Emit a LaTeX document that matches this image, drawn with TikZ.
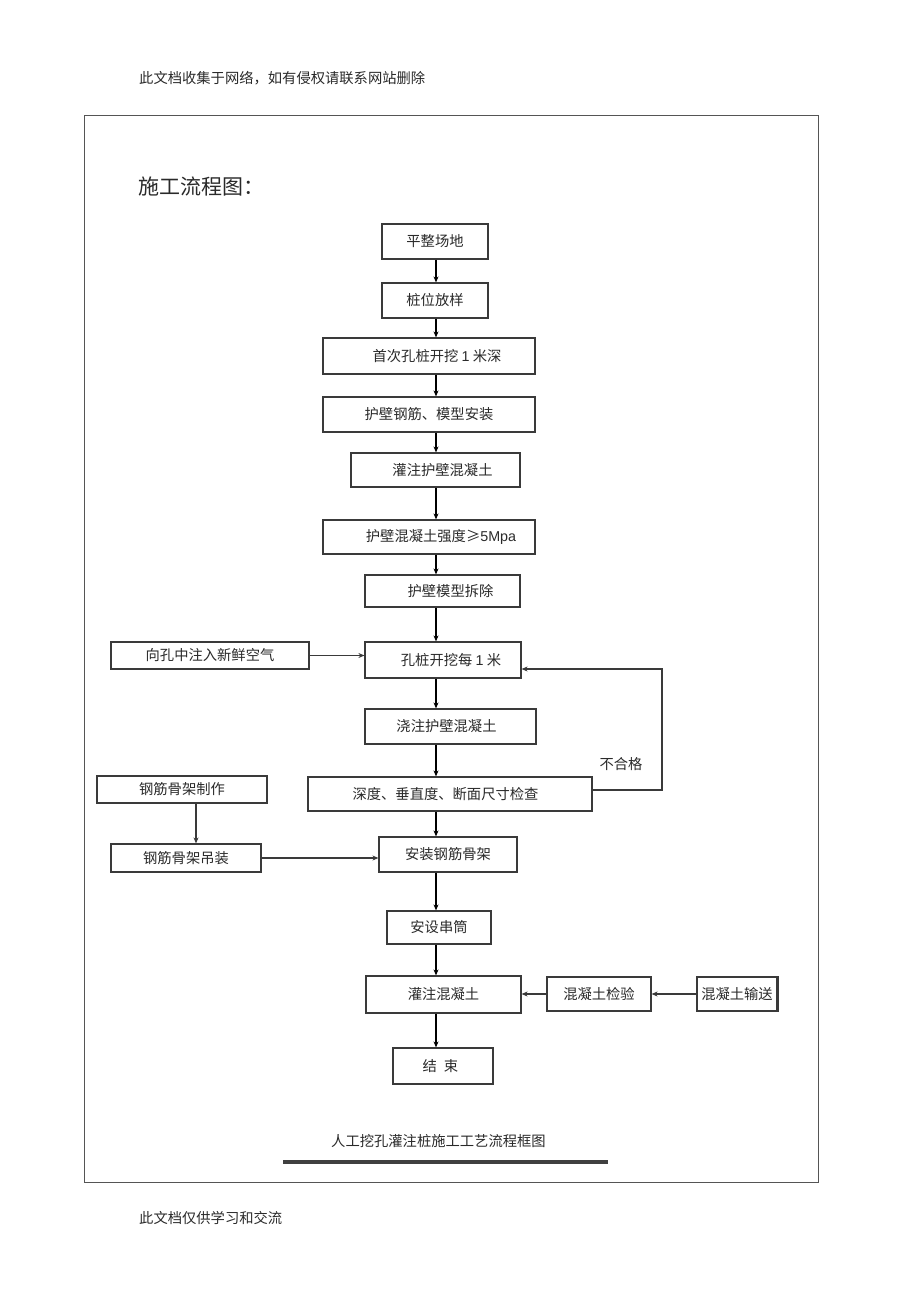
\documentclass[tikz,border=0pt]{standalone}
\usepackage{fontspec}
\newfontfamily\cjk{Noto Sans CJK SC}
\newfontfamily\lat{Liberation Sans}
\usetikzlibrary{arrows.meta}
\definecolor{txtc}{HTML}{2A2A2A}
\definecolor{boxc}{HTML}{3A3A3A}
\definecolor{framec}{HTML}{555555}
\begin{document}
\begin{tikzpicture}[x=1pt,y=-1pt,
  box/.style={draw=boxc, line width=1.2pt, inner sep=0pt, text=txtc,
    font=\cjk\fontsize{14.3}{16}\selectfont},
  plain/.style={inner sep=0pt, text=txtc, font=\cjk\fontsize{14.3}{16}\selectfont},
  arr/.style={draw=black, line width=1.4pt, -{Stealth[length=6pt,width=5pt]}},
  sidearr/.style={draw=boxc, line width=1.3pt, -{Stealth[length=6pt,width=5pt]}}]
\useasboundingbox[fill=white] (0,0) rectangle (920,1303);
\draw[framec, line width=1pt] (84,116) rectangle (818,1182);

\node[plain, anchor=west] (hdr) at (139,78) {此文档收集于网络，如有侵权请联系网站删除};
\node[plain, anchor=west, font=\cjk\fontsize{21}{24}\selectfont] (ttl) at (138,187) {施工流程图：};
\node[plain, anchor=west] (cap) at (331,1141) {人工挖孔灌注桩施工工艺流程框图};
\node[plain, anchor=west] (ftr) at (139,1218) {此文档仅供学习和交流};
\draw[line width=4pt, color=black!75] (283,1162) -- (608,1162);

\coordinate (ax) at (436,0);
\coordinate (cx) at (196,0);
\coordinate (fbx) at (662,0);

\node[box, minimum width=106pt, minimum height=35pt] (n1) at (435,241.5) {平整场地};
\node[box, minimum width=106pt, minimum height=35pt] (n2) at (435,300.5) {桩位放样};
\node[box, minimum width=212pt, minimum height=36pt] (n3) at (429,356) {\hspace*{16pt}首次孔桩开挖 {\lat 1} 米深};
\node[box, minimum width=212pt, minimum height=35pt] (n4) at (429,414.5) {护壁钢筋、模型安装};
\node[box, minimum width=169pt, minimum height=34pt] (n5) at (435.5,470) {\hspace*{14pt}灌注护壁混凝土};
\node[box, minimum width=212pt, minimum height=34pt] (n6) at (429,537) {\hspace*{24pt}护壁混凝土强度≥{\lat 5Mpa}};
\node[box, minimum width=155pt, minimum height=32pt] (n7) at (442.5,591) {\hspace*{16pt}护壁模型拆除};
\node[box, minimum width=156pt, minimum height=36pt] (n8) at (443,660) {\hspace*{16pt}孔桩开挖每 {\lat 1} 米};
\node[box, minimum width=198pt, minimum height=27pt] (n9) at (210,655.5) {向孔中注入新鲜空气};
\node[box, minimum width=171pt, minimum height=35pt] (n10) at (450.5,726.5) {浇注护壁混凝土\hspace*{8pt}};
\node[box, minimum width=284pt, minimum height=34pt] (n11) at (450,794) {深度、垂直度、断面尺寸检查\hspace*{9pt}};
\node[box, minimum width=170pt, minimum height=27pt] (n12) at (182,789.5) {钢筋骨架制作};
\node[box, minimum width=150pt, minimum height=28pt] (n13) at (186,858) {钢筋骨架吊装};
\node[box, minimum width=138pt, minimum height=35pt] (n14) at (448,854.5) {安装钢筋骨架};
\node[box, minimum width=104pt, minimum height=33pt] (n15) at (439,927.5) {安设串筒};
\node[box, minimum width=155pt, minimum height=37pt] (n16) at (443.5,994.5) {灌注混凝土};
\node[box, minimum width=104pt, minimum height=34pt] (n17) at (599,994) {混凝土检验};
\node[box, minimum width=80pt, minimum height=34pt] (n18) at (737,994) {混凝土输送};
\draw[boxc, line width=2.2pt] (n18.north east) -- (n18.south east);
\node[box, minimum width=100pt, minimum height=36pt] (n19) at (443,1066) {结\hspace{7pt}束\hspace*{5pt}};
\node[plain] (ng) at (621,764) {不合格};

\draw[arr] (n1.south -| ax) -- (n2.north -| ax);
\draw[arr] (n2.south -| ax) -- (n3.north -| ax);
\draw[arr] (n3.south -| ax) -- (n4.north -| ax);
\draw[arr] (n4.south -| ax) -- (n5.north -| ax);
\draw[arr] (n5.south -| ax) -- (n6.north -| ax);
\draw[arr] (n6.south -| ax) -- (n7.north -| ax);
\draw[arr] (n7.south -| ax) -- (n8.north -| ax);
\draw[arr] (n8.south -| ax) -- (n10.north -| ax);
\draw[arr] (n10.south -| ax) -- (n11.north -| ax);
\draw[arr] (n11.south -| ax) -- (n14.north -| ax);
\draw[arr] (n14.south -| ax) -- (n15.north -| ax);
\draw[arr] (n15.south -| ax) -- (n16.north -| ax);
\draw[arr] (n16.south -| ax) -- (n19.north -| ax);

\draw[sidearr] (n9.east) -- (n9.east -| n8.west);
\draw[sidearr] (n12.south -| cx) -- (n13.north -| cx);
\draw[sidearr] (n13.east) -- (n13.east -| n14.west);
\draw[sidearr] ([yshift=4pt]n11.east) -- ([yshift=4pt]n11.east -| fbx)
  -- ([yshift=-9pt]n8.east -| fbx) -- ([yshift=-9pt]n8.east);
\draw[sidearr] (n18.west) -- (n17.east);
\draw[sidearr] (n17.west) -- (n17.west -| n16.east);
\end{tikzpicture}
\end{document}
